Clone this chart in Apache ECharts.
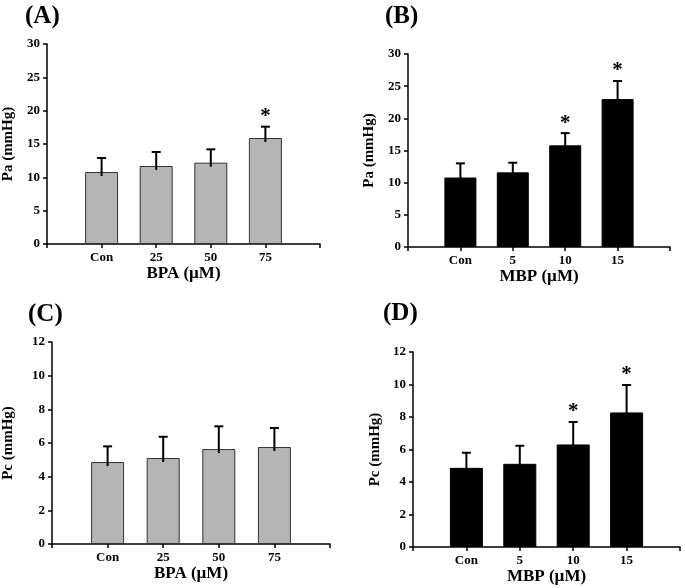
<!DOCTYPE html>
<html>
<head>
<meta charset="utf-8">
<script src="https://cdn.jsdelivr.net/npm/echarts@6/dist/echarts.min.js"></script>
<style>html,body{margin:0;padding:0;background:#fff;}#c{width:685px;height:588px;}</style>
</head>
<body>
<div id="c"></div>
<script>
// ---- data ----
const bpaCats = ['Con', '25', '50', '75'];
const mbpCats = ['Con', '5', '10', '15'];
const paBpaMean = [10.8, 11.7, 12.2, 15.9];
const paBpaErr  = [2.1, 2.1, 2.0, 1.7];
const paBpaSig  = [false, false, false, true];
const paMbpMean = [10.8, 11.6, 15.8, 23.0];
const paMbpErr  = [2.2, 1.5, 1.9, 2.8];
const paMbpSig  = [false, false, true, true];
const pcBpaMean = [4.87, 5.11, 5.64, 5.76];
const pcBpaErr  = [0.93, 1.26, 1.35, 1.13];
const pcBpaSig  = [false, false, false, false];
const pcMbpMean = [4.87, 5.12, 6.31, 8.28];
const pcMbpErr  = [0.93, 1.11, 1.38, 1.69];
const pcMbpSig  = [false, false, true, true];
const panelLabels = ['(A)', '(B)', '(C)', '(D)'];
const xNames = ['BPA (µM)', 'MBP (µM)', 'BPA (µM)', 'MBP (µM)'];
const yNames = ['Pa (mmHg)', 'Pa (mmHg)', 'Pc (mmHg)', 'Pc (mmHg)'];

const FONT = '"Liberation Serif", "Times New Roman", serif';
const panels = [
  {cats: bpaCats, mean: paBpaMean, err: paBpaErr, sig: paBpaSig, max: 30, interval: 5, color: '#b5b5b5', border: '#333',
   grid: {left: 43, top: 44, width: 277, height: 200}, yGap: 31, xGap: 18, title: {left: 20, top: -1}, bw: 33},
  {cats: mbpCats, mean: paMbpMean, err: paMbpErr, sig: paMbpSig, max: 30, interval: 5, color: '#000', border: '#000',
   grid: {left: 408, top: 54, width: 262, height: 193}, yGap: 31, xGap: 17, title: {left: 380, top: -1}, bw: 32},
  {cats: bpaCats, mean: pcBpaMean, err: pcBpaErr, sig: pcBpaSig, max: 12, interval: 2, color: '#b5b5b5', border: '#333',
   grid: {left: 52, top: 342, width: 278, height: 202}, yGap: 36, xGap: 21, title: {left: 23, top: 297}, bw: 33},
  {cats: mbpCats, mean: pcMbpMean, err: pcMbpErr, sig: pcMbpSig, max: 12, interval: 2, color: '#000', border: '#000',
   grid: {left: 413, top: 352, width: 267, height: 195}, yGap: 30, xGap: 14, title: {left: 378, top: 296}, bw: 33}
];

const option = {
  animation: false,
  backgroundColor: '#fff',
  title: [], grid: [], xAxis: [], yAxis: [], series: []
};

panels.forEach((p, i) => {
  option.title.push({text: panelLabels[i], left: p.title.left, top: p.title.top,
    textStyle: {fontFamily: FONT, fontWeight: 'bold', fontSize: 25, color: '#000'}});
  option.grid.push(Object.assign({containLabel: false}, p.grid));
  option.xAxis.push({
    type: 'category', gridIndex: i, boundaryGap: false,
    data: [''].concat(p.cats).concat([' ']),
    name: xNames[i], nameLocation: 'middle', nameGap: p.xGap,
    nameTextStyle: {fontFamily: FONT, fontWeight: 'bold', fontSize: 17, color: '#000', verticalAlign: 'top'},
    axisLine: {lineStyle: {color: '#000', width: 1.5}},
    axisTick: {show: true, length: 4, inside: false, interval: 0, lineStyle: {color: '#000', width: 1.5}},
    axisLabel: {interval: 0, margin: 7, fontFamily: FONT, fontWeight: 'bold', fontSize: 13, color: '#000'},
    splitLine: {show: false}
  });
  option.yAxis.push({
    type: 'value', gridIndex: i, min: 0, max: p.max, interval: p.interval,
    name: yNames[i], nameLocation: 'middle', nameGap: p.yGap, nameRotate: 90,
    nameTextStyle: {fontFamily: FONT, fontWeight: 'bold', fontSize: 15, color: '#000'},
    axisLine: {show: true, lineStyle: {color: '#000', width: 1.5}},
    axisTick: {show: true, length: 4, inside: false, lineStyle: {color: '#000', width: 1.5}},
    axisLabel: {margin: 7, fontFamily: FONT, fontWeight: 'bold', fontSize: 13, color: '#000'},
    splitLine: {show: false}
  });
  option.series.push({
    type: 'bar', xAxisIndex: i, yAxisIndex: i, barWidth: p.bw,
    data: ['-'].concat(p.mean).concat(['-']),
    itemStyle: {color: p.color, borderColor: p.border, borderWidth: 1}
  });
  option.series.push({
    type: 'custom', xAxisIndex: i, yAxisIndex: i, z: 5,
    data: p.mean.map((m, k) => [k + 1, m, p.err[k], p.sig[k] ? 1 : 0]),
    renderItem: function (params, api) {
      const x = api.value(0), v = api.value(1), e = api.value(2), s = api.value(3);
      const p0 = api.coord([x, v - 0.02 * p.max]);
      const p1 = api.coord([x, v + e]);
      const children = [
        {type: 'line', shape: {x1: p0[0], y1: p0[1], x2: p1[0], y2: p1[1]}, style: {stroke: '#000', lineWidth: 2}},
        {type: 'line', shape: {x1: p1[0] - 4.5, y1: p1[1], x2: p1[0] + 4.5, y2: p1[1]}, style: {stroke: '#000', lineWidth: 2}}
      ];
      if (s) {
        children.push({type: 'text', x: p1[0], y: p1[1] - 10,
          style: {text: '*', fontFamily: FONT, fontWeight: 'bold', fontSize: 21, fill: '#000', align: 'center', verticalAlign: 'middle'}});
      }
      return {type: 'group', children: children};
    }
  });
});

const chart = echarts.init(document.getElementById('c'), null, {renderer: 'canvas'});
chart.setOption(option);
</script>
</body>
</html>
